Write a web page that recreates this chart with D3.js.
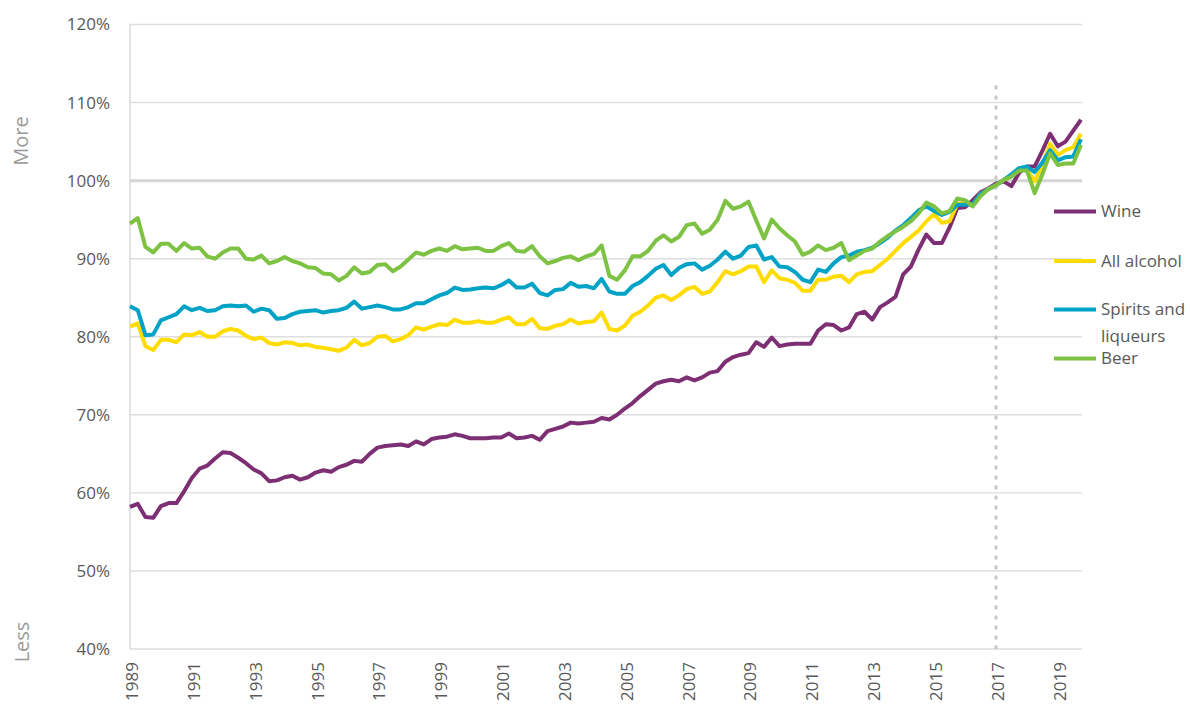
<!DOCTYPE html>
<html>
<head>
<meta charset="utf-8">
<script src="https://cdn.jsdelivr.net/npm/d3@7"></script>
<style>
  html, body { margin: 0; padding: 0; background: #fff; }
  svg { display: block; font-family: "Open Sans", "Liberation Sans", sans-serif; }
</style>
</head>
<body>
<svg id="chart" width="1190" height="704"></svg>
<script>
// quarterly series, 1989 Q1 .. 2019 Q4 (index, 2017 = 100)
const startYear = 1989;

const wine = [
  58.2, 58.6, 56.9, 56.8, 58.3, 58.7, 58.7, 60.2, 61.9, 63.1, 63.5, 64.4,
  65.2, 65.1, 64.5, 63.8, 63.0, 62.5, 61.5, 61.6, 62.0, 62.2, 61.7, 62.0,
  62.6, 62.9, 62.7, 63.3, 63.6, 64.1, 64.0, 65.0, 65.8, 66.0, 66.1, 66.2,
  66.0, 66.6, 66.2, 66.9, 67.1, 67.2, 67.5, 67.3, 67.0, 67.0, 67.0, 67.1,
  67.1, 67.6, 67.0, 67.1, 67.3, 66.8, 67.9, 68.2, 68.5, 69.0, 68.9, 69.0,
  69.1, 69.6, 69.4, 70.0, 70.8, 71.5, 72.4, 73.2, 74.0, 74.3, 74.5, 74.3,
  74.8, 74.4, 74.8, 75.4, 75.6, 76.8, 77.4, 77.7, 77.9, 79.3, 78.7, 79.9,
  78.8, 79.0, 79.1, 79.1, 79.1, 80.8, 81.6, 81.5, 80.8, 81.2, 82.9, 83.2,
  82.2, 83.8, 84.4, 85.1, 88.0, 89.0, 91.2, 93.1, 92.0, 92.0, 94.0, 96.5,
  96.6, 97.5, 98.5, 99.0, 99.6, 99.9, 99.3, 101.0, 101.8, 101.8, 103.8, 106.0,
  104.4, 105.0, 106.4, 107.8
];

const allAlcohol = [
  81.3, 81.7, 78.8, 78.3, 79.6, 79.6, 79.3, 80.3, 80.2, 80.6, 80.0, 80.0,
  80.7, 81.0, 80.8, 80.1, 79.7, 79.9, 79.2, 79.0, 79.3, 79.2, 78.9, 79.0,
  78.7, 78.6, 78.4, 78.2, 78.6, 79.6, 78.9, 79.2, 80.0, 80.1, 79.4, 79.7,
  80.2, 81.2, 80.9, 81.3, 81.6, 81.5, 82.2, 81.8, 81.8, 82.0, 81.8, 81.8,
  82.2, 82.5, 81.6, 81.6, 82.3, 81.1, 81.0, 81.4, 81.6, 82.2, 81.7, 81.9,
  82.0, 83.1, 81.0, 80.8, 81.4, 82.7, 83.2, 84.0, 85.0, 85.3, 84.7, 85.3,
  86.1, 86.4, 85.5, 85.8, 87.0, 88.4, 88.0, 88.4, 89.0, 89.0, 87.0, 88.5,
  87.5, 87.3, 86.9, 85.9, 85.9, 87.3, 87.3, 87.7, 87.8, 87.0, 88.0, 88.3,
  88.4, 89.2, 90.0, 91.0, 92.0, 92.8, 93.6, 94.8, 95.7, 94.6, 94.8, 97.0,
  97.2, 96.9, 98.3, 98.9, 99.4, 100.1, 100.6, 101.3, 101.4, 99.9, 102.0, 104.7,
  103.3, 103.9, 104.3, 106.0
];

const spirits = [
  83.9, 83.4, 80.2, 80.3, 82.1, 82.5, 82.9, 83.9, 83.4, 83.7, 83.3, 83.4,
  83.9, 84.0, 83.9, 84.0, 83.2, 83.6, 83.4, 82.3, 82.4, 82.9, 83.2, 83.3,
  83.4, 83.1, 83.3, 83.4, 83.7, 84.5, 83.6, 83.8, 84.0, 83.8, 83.5, 83.5,
  83.8, 84.3, 84.3, 84.8, 85.3, 85.6, 86.3, 86.0, 86.05, 86.2, 86.3, 86.2,
  86.6, 87.2, 86.3, 86.3, 86.8, 85.6, 85.3, 86.0, 86.1, 86.9, 86.4, 86.5,
  86.2, 87.4, 85.8, 85.5, 85.5, 86.5, 87.0, 87.8, 88.7, 89.2, 87.9, 88.8,
  89.3, 89.4, 88.6, 89.1, 89.9, 90.9, 90.0, 90.4, 91.5, 91.7, 89.9, 90.2,
  89.0, 88.9, 88.3, 87.3, 87.0, 88.6, 88.3, 89.4, 90.2, 90.4, 90.9, 91.1,
  91.4, 92.0, 92.7, 93.6, 94.3, 95.2, 96.2, 96.7, 96.1, 95.6, 96.0, 96.9,
  96.9, 97.0, 98.3, 98.9, 99.4, 100.1, 100.8, 101.6, 101.8, 101.1, 102.3, 103.9,
  102.6, 103.0, 103.1, 105.3
];

const beer = [
  94.5, 95.2, 91.5, 90.8, 91.9, 91.9, 91.0, 92.0, 91.3, 91.4, 90.3, 90.0,
  90.8, 91.3, 91.3, 90.0, 89.9, 90.4, 89.4, 89.7, 90.2, 89.7, 89.4, 88.9,
  88.8, 88.1, 88.0, 87.2, 87.8, 88.9, 88.1, 88.3, 89.2, 89.3, 88.4, 89.0,
  89.9, 90.8, 90.5, 91.0, 91.3, 91.0, 91.6, 91.2, 91.3, 91.4, 91.0, 91.0,
  91.6, 92.0, 91.0, 90.9, 91.6, 90.3, 89.4, 89.7, 90.1, 90.3, 89.8, 90.3,
  90.6, 91.7, 87.8, 87.3, 88.5, 90.3, 90.3, 91.0, 92.3, 93.0, 92.2, 92.8,
  94.3, 94.5, 93.2, 93.7, 95.0, 97.4, 96.4, 96.7, 97.3, 94.9, 92.6, 95.0,
  93.9, 93.0, 92.2, 90.5, 90.9, 91.7, 91.1, 91.4, 92.0, 89.8, 90.4, 91.0,
  91.3, 92.2, 92.9, 93.5, 94.1, 94.8, 95.8, 97.2, 96.7, 95.8, 96.1, 97.7,
  97.5, 96.7, 98.0, 98.9, 99.4, 100.1, 100.5, 101.3, 101.3, 98.4, 100.8, 103.5,
  102.0, 102.2, 102.2, 104.6
];

const yTicks = [40, 50, 60, 70, 80, 90, 100, 110, 120];
const xTickYears = d3.range(1989, 2020, 2);
const markerYear = 2017;

const legendNames = ["Wine", "All alcohol", "Spirits and liqueurs", "Beer"];

// 绘制
const W = 1190, H = 704;
const margin = { top: 25, right: 108, bottom: 55, left: 130 };
const innerW = W - margin.left - margin.right;
const innerH = H - margin.top - margin.bottom;

const svg = d3.select("#chart");

const x = d3.scaleLinear()
  .domain([startYear, startYear + (wine.length - 1) / 4])
  .range([margin.left, margin.left + 951]);
const y = d3.scaleLinear()
  .domain([40, 120])
  .range([649, 24.5]);

const series = [
  { name: legendNames[0], values: wine, color: "#7d2f74" },
  { name: legendNames[1], values: allAlcohol, color: "#ffdc00" },
  { name: legendNames[2], values: spirits, color: "#00a2c6" },
  { name: legendNames[3], values: beer, color: "#7dc242" },
];

const gridRight = 1082;

// 网格线
svg.append("g")
  .attr("class", "grid")
  .selectAll("line")
  .data(yTicks)
  .join("line")
  .attr("x1", margin.left)
  .attr("x2", gridRight)
  .attr("y1", (d) => y(d))
  .attr("y2", (d) => y(d))
  .attr("stroke", (d) => (d === 100 ? "#d4d4d4" : "#dedede"))
  .attr("stroke-width", (d) => (d === 100 ? 3 : 1.4));

// 左侧轴线
svg.append("line")
  .attr("x1", margin.left)
  .attr("x2", margin.left)
  .attr("y1", y(120))
  .attr("y2", y(40))
  .attr("stroke", "#dadada")
  .attr("stroke-width", 1.5);

// y 轴标签
svg.append("g")
  .selectAll("text")
  .data(yTicks)
  .join("text")
  .attr("x", 110)
  .attr("y", (d) => y(d))
  .attr("dy", "0.35em")
  .attr("text-anchor", "end")
  .attr("font-size", 17)
  .attr("fill", "#595959")
  .text((d) => d + "%");

// More / Less
svg.append("text")
  .attr("transform", `translate(28,141) rotate(-90)`)
  .attr("text-anchor", "middle")
  .attr("font-size", 20)
  .attr("fill", "#9a9a9a")
  .text("More");
svg.append("text")
  .attr("transform", `translate(29,642) rotate(-90)`)
  .attr("text-anchor", "middle")
  .attr("font-size", 20)
  .attr("fill", "#9a9a9a")
  .text("Less");

// x 轴标签（竖排）
svg.append("g")
  .selectAll("text")
  .data(xTickYears)
  .join("text")
  .attr("transform", (d) => `translate(${x(d) + 2},662) rotate(-90)`)
  .attr("dy", "0.35em")
  .attr("text-anchor", "end")
  .attr("font-size", 17)
  .attr("fill", "#595959")
  .text((d) => d);

// 2017 虚线
svg.append("line")
  .attr("x1", x(markerYear))
  .attr("x2", x(markerYear))
  .attr("y1", y(112.2))
  .attr("y2", y(40))
  .attr("stroke", "#c8c8c8")
  .attr("stroke-width", 3)
  .attr("stroke-dasharray", "4 6");

// 折线
const line = d3.line()
  .x((d, i) => x(startYear + i / 4))
  .y((d) => y(d));

svg.append("g")
  .attr("class", "lines")
  .selectAll("path")
  .data(series)
  .join("path")
  .attr("d", (d) => line(d.values))
  .attr("fill", "none")
  .attr("stroke", (d) => d.color)
  .attr("stroke-width", 4)
  .attr("stroke-linejoin", "round");

// 图例
const legendRows = [
  { s: series[0], y: 211.5, lines: ["Wine"] },
  { s: series[1], y: 261, lines: ["All alcohol"] },
  { s: series[2], y: 309.5, lines: ["Spirits and", "liqueurs"] },
  { s: series[3], y: 358.5, lines: ["Beer"] },
];

const legend = svg.append("g").attr("class", "legend");
legendRows.forEach((r) => {
  legend.append("line")
    .attr("x1", 1054)
    .attr("x2", 1096)
    .attr("y1", r.y)
    .attr("y2", r.y)
    .attr("stroke", r.s.color)
    .attr("stroke-width", 4);
  r.lines.forEach((t, k) => {
    legend.append("text")
      .attr("x", 1101)
      .attr("y", r.y + k * 27)
      .attr("dy", "0.35em")
      .attr("font-size", 17)
      .attr("fill", "#595959")
      .text(t);
  });
});
</script>
</body>
</html>
